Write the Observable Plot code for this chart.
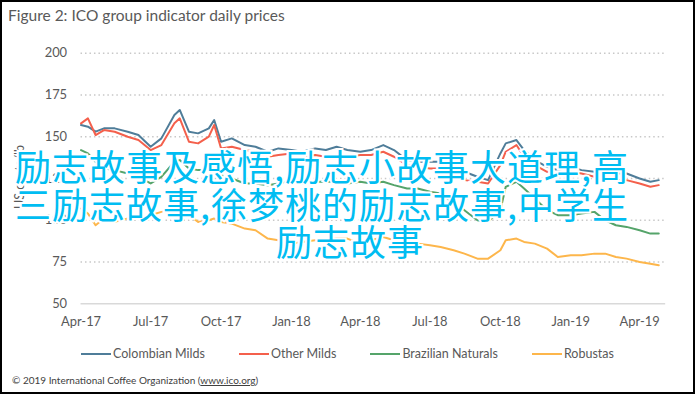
<!DOCTYPE html>
<html>
<head>
<meta charset="utf-8">
<script src="https://cdn.jsdelivr.net/npm/d3@7"></script>
<script src="https://cdn.jsdelivr.net/npm/@observablehq/plot@0.6"></script>
<style>
  html, body { margin: 0; padding: 0; background: #fff; }
  #wrap { position: relative; width: 695px; height: 394px; box-sizing: border-box; border: 2px solid #000; overflow: hidden; font-family: Lato, "Open Sans", sans-serif; color: #595959; }
  #title { position: absolute; left: 6px; top: 4px; font-size: 15.5px; color: #595959; }
  #chart { position: absolute; left: -2px; top: -2px; }
  #ylabel { position: absolute; left: 17px; top: 175px; transform: translate(-50%, -50%) rotate(-90deg); font-size: 12.5px; white-space: nowrap; }
  #legend { position: absolute; left: 0; top: 344px; width: 691px; display: flex; justify-content: center; font-size: 12.5px; }
  .item { display: flex; align-items: center; margin: 0 17px; }
  .swatch { width: 30px; height: 2px; margin-right: 2px; }
  #credit { position: absolute; left: 10px; top: 372px; font-size: 10px; color: #404040; }
  #credit u { text-decoration: underline; }
  .cjk { position: absolute; font-family: "Noto Sans CJK SC", sans-serif; font-size: 36px; line-height: 36px; letter-spacing: 1px; color: #00bdf2; white-space: nowrap; -webkit-text-stroke: 4px #fff; paint-order: stroke fill; }
</style>
</head>
<body>
<div id="wrap">
  <div id="title">Figure 2: ICO group indicator daily prices</div>
  <div id="chart"></div>
  <div id="ylabel">US cents/lb</div>
  <div id="legend"></div>
  <div id="credit">© 2019 International Coffee Organization (<u>www.ico.org</u>)</div>
  <div class="cjk" style="left:13px; top:145px;">励志故事及感悟,励志小故事大道理,高</div>
  <div class="cjk" style="left:13px; top:183px;">三励志故事,徐梦桃的励志故事,中学生</div>
  <div class="cjk" style="left:274px; top:220px;">励志故事</div>
</div>
<script>
const seriesNames = ["Colombian Milds", "Other Milds", "Brazilian Naturals", "Robustas"];
const seriesColors = ["#4f7d99", "#f4604c", "#55a46a", "#fdb64b"];

const dates = [
  "2017-04-01","2017-04-10","2017-04-20","2017-05-01","2017-05-15","2017-06-01","2017-06-15",
  "2017-07-01","2017-07-15","2017-08-01","2017-08-08","2017-08-20","2017-09-01","2017-09-15",
  "2017-09-22","2017-10-01","2017-10-15","2017-11-01","2017-11-15","2017-12-01","2017-12-15",
  "2018-01-01","2018-01-15","2018-02-01","2018-02-15","2018-03-01","2018-03-15","2018-04-01",
  "2018-04-15","2018-05-01","2018-05-15","2018-06-01","2018-06-15","2018-07-01","2018-07-15",
  "2018-08-01","2018-08-15","2018-09-01","2018-09-15","2018-10-01","2018-10-08","2018-10-22",
  "2018-11-01","2018-11-15","2018-12-01","2018-12-15","2019-01-01","2019-01-15","2019-02-01",
  "2019-02-15","2019-03-01","2019-03-15","2019-04-01","2019-04-15","2019-04-26"
];

const colombianMilds = [157,156,153,155,155,153,151,144,149,163,166,153,152,155,160,147,149,145,144,141,143,
  142,141,143,142,144,142,141,142,145,142,136,135,135,135,131,129,126,124,140,146,148,
  142,136,132,130,132,130,129,128,128,128,125,123,124];
const otherMilds = [158,161,151,154,153,150,148,142,145,158,161,147,146,150,157,143,144,142,141,138,139,
  140,138,139,138,139,138,139,139,141,138,133,132,131,131,127,124,123,122,133,141,145,
  138,133,129,128,129,128,126,125,124,124,122,120,121];
const brazilianNaturals = [142,140,135,131,130,128,126,122,126,135,136,131,130,130,132,127,125,122,122,121,122,
  123,122,123,123,123,122,123,122,123,121,119,119,117,116,110,106,100,99,106,120,123,
  119,113,106,103,103,104,105,100,97,96,94,92,92];
const robustas = [107,104,97,101,99,101,101,103,105,106,105,103,99,100,101,99,98,95,94,89,88,
  86,87,88,88,89,89,86,88,90,88,87,86,85,84,82,80,77,77,82,88,89,
  87,86,83,78,79,79,80,80,78,77,75,74,73];

const xTicks = ["2017-04-01","2017-07-01","2017-10-01","2018-01-01","2018-04-01","2018-07-01","2018-10-01","2019-01-01","2019-04-01"];
const yTicks = [50, 75, 100, 125, 150, 175, 200];

const seriesValues = [colombianMilds, otherMilds, brazilianNaturals, robustas];
const table = [];
seriesNames.forEach((name, i) => {
  dates.forEach((d, j) => table.push({series: name, date: new Date(d), value: seriesValues[i][j]}));
});

const chart = Plot.plot({
  width: 697,
  height: 342,
  marginLeft: 81,
  marginRight: 28,
  marginTop: 53,
  marginBottom: 37,
  style: {fontFamily: "Lato, 'Open Sans', sans-serif", fontSize: "13px", color: "#595959", background: "transparent", overflow: "visible"},
  x: {type: "utc", domain: [new Date("2017-04-01"), new Date("2019-05-05")]},
  y: {domain: [50, 200]},
  color: {domain: seriesNames, range: seriesColors},
  marks: [
    Plot.ruleY(yTicks.filter(v => v > 50), {stroke: "#c8c8c8", strokeWidth: 1.5, strokeDasharray: "1.5,3"}),
    Plot.ruleY([50], {stroke: "#d9d9d9", strokeWidth: 1.5}),
    Plot.lineY(table, {x: "date", y: "value", stroke: "series", z: "series", strokeWidth: 2}),
    Plot.axisY({ticks: yTicks, tickSize: 0, tickPadding: 14, label: null}),
    Plot.axisX({ticks: xTicks.map(d => new Date(d)), tickFormat: d3.utcFormat("%b-%y"), tickSize: 0, tickPadding: 13, label: null})
  ]
});
document.getElementById("chart").appendChild(chart);

const legend = document.getElementById("legend");
seriesNames.forEach((name, i) => {
  const item = document.createElement("div");
  item.className = "item";
  const sw = document.createElement("span");
  sw.className = "swatch";
  sw.style.background = seriesColors[i];
  const label = document.createElement("span");
  label.textContent = name;
  item.appendChild(sw);
  item.appendChild(label);
  legend.appendChild(item);
});
</script>
</body>
</html>
